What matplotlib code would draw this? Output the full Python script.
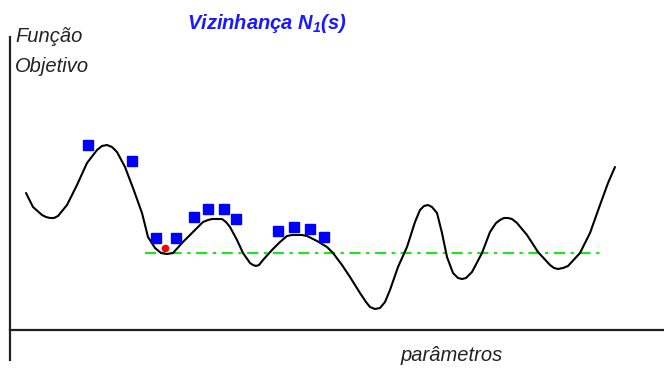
import matplotlib
matplotlib.use("Agg")
import matplotlib.pyplot as plt

plt.rcParams['font.family'] = ['Liberation Sans', 'DejaVu Sans']
plt.rcParams['mathtext.fontset'] = 'custom'
plt.rcParams['mathtext.bfit'] = 'Liberation Sans:bold:italic'
plt.rcParams['mathtext.it'] = 'Liberation Sans:italic'
plt.rcParams['mathtext.rm'] = 'Liberation Sans'

# objective function curve (pixel coords, y down)
curve_x = [26, 33, 42, 46, 50, 54, 58, 67, 77, 87, 97, 102, 107, 112, 117,
           125, 133, 142, 148, 155, 161, 167, 173, 183, 193, 203, 208, 212,
           222, 226, 230, 237, 243, 250, 253, 256, 259, 263, 272, 280, 287,
           292, 297, 302, 307, 317, 327, 333, 342, 350, 360, 366, 370, 375,
           380, 385, 390, 398, 407, 415, 420, 424, 428, 432, 437, 442, 447,
           453, 458, 462, 466, 472, 482, 490, 496, 500, 504, 508, 512, 517,
           527, 538, 550, 554, 558, 563, 568, 580, 590, 600, 608, 615]
curve_y = [193, 207, 215, 217, 218, 218, 216, 205, 185, 163, 150, 146, 145,
           147, 152, 167, 188, 213, 237, 248, 253, 254, 253, 242, 232, 222,
           220, 219, 219, 222, 227, 240, 253, 263, 265, 266, 265, 260, 250,
           242, 236, 235, 235, 235, 236, 241, 247, 253, 265, 277, 293, 302,
           307, 309, 308, 302, 290, 267, 247, 222, 210, 206, 205, 207, 213,
           233, 257, 273, 278, 279, 278, 272, 253, 232, 223, 220, 218, 218,
           219, 223, 235, 252, 265, 268, 269, 268, 266, 253, 233, 205, 183,
           167]

# neighbourhood solutions (blue squares)
viz_x = [88, 132, 156, 176, 194, 208, 224, 236, 278, 294, 310, 324]
viz_y = [145, 161, 238, 238, 217, 209, 209, 219, 231, 227, 229, 237]

# current solution (red point) and its level
atual_x = [165]
atual_y = [248]
nivel = 253
nivel_ini, nivel_fim = 145, 600

fig = plt.figure(figsize=(6.64, 3.69), dpi=100)
ax = fig.add_axes([0, 0, 1, 1])
ax.set_xlim(0, 664)
ax.set_ylim(369, 0)
ax.axis('off')

# axes drawn by hand
ax.plot([10, 10], [37, 360], color='#222222', lw=1.6)
ax.plot([10, 664], [330, 330], color='#222222', lw=1.6)

ax.plot([nivel_ini, nivel_fim], [nivel, nivel], color='#22e022', lw=1.6,
        linestyle=(0, (5, 2.5, 1.5, 2.5)), zorder=2)
ax.plot(curve_x, curve_y, color='black', lw=1.5, zorder=3,
        solid_joinstyle='round', solid_capstyle='round')
ax.plot(viz_x, viz_y, 's', color='#0000ff', ms=6.5, mec='#0000ff', zorder=4)
ax.plot(atual_x, atual_y, 'o', color='#ff0000', ms=4.5, zorder=5)

ax.text(15, 42, 'Função', fontsize=14.5, style='italic', color='#222222', va='baseline')
ax.text(15, 72, 'Objetivo', fontsize=14.5, style='italic', color='#222222', va='baseline')
ax.text(400, 361, 'parâmetros', fontsize=14.5, style='italic', color='#222222', va='baseline')
ax.text(267, 29, r'Vizinhança $\mathbfit{N_1}$(s)', fontsize=14.5, style='italic',
        fontweight='bold', color='#1a1aff', ha='center', va='baseline')

fig.savefig('out.png', dpi=100)
